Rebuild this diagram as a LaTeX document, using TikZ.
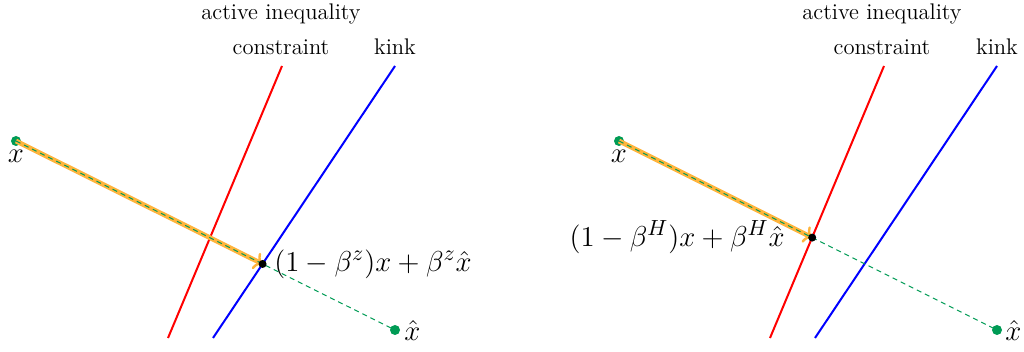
\documentclass[tikz,border=0pt]{standalone}
\usetikzlibrary{arrows.meta}
\definecolor{gpt}{RGB}{0,155,85}
\definecolor{orng}{RGB}{255,180,60}
\begin{document}
\begin{tikzpicture}[x=0.5pt,y=-0.5pt,
  gdot/.style={circle,fill=gpt,inner sep=0pt,minimum size=5pt},
  bdot/.style={circle,fill=black,inner sep=0pt,minimum size=4pt},
  cline/.style={line width=1pt},
  orarrow/.style={draw=orng,line width=2.4pt,-{To[length=4pt,width=9pt,line width=1.2pt]}},
  gdash/.style={draw=gpt,line width=0.5pt,dash pattern=on 2.5pt off 2pt},
  lbl/.style={inner sep=0pt,font=\fontsize{15.1}{18}\selectfont},
  ttl/.style={inner sep=0pt,font=\fontsize{11.3}{13.5}\selectfont}]
\useasboundingbox (0,0) rectangle (1024,352);
% ---------- left panel ----------
\coordinate (rA1) at (168,338); \coordinate (rA2) at (282,66);
\coordinate (bA1) at (213,338); \coordinate (bA2) at (395,66);
\node[gdot] (xA) at (16,141) {};
\node[gdot] (hA) at (395,330) {};
\coordinate (mA) at (intersection of xA--hA and bA1--bA2);
\draw[cline,red] (rA1) -- (rA2);
\draw[cline,blue] (bA1) -- (bA2);
\draw[orarrow] (xA.center) -- (mA);
\draw[gdash] (xA.center) -- (hA.center);
\node[bdot] (pA) at (mA) {};
\node[lbl] (xlA) at (16,156) {$x$};
\node[lbl,anchor=west] (hlA) at (404,331) {$\hat{x}$};
\node[lbl,anchor=west] (plA) at (274,264) {$(1-\beta^z)x+\beta^z\hat{x}$};
\node[ttl] (t1A) at (281,14) {active inequality};
\node[ttl] (t2A) at (281,47) {constraint};
\node[ttl] (t3A) at (395,47) {kink};
% ---------- right panel ----------
\coordinate (rB1) at (770,338); \coordinate (rB2) at (884,66);
\coordinate (bB1) at (815,338); \coordinate (bB2) at (997,66);
\node[gdot] (xB) at (619,141) {};
\node[gdot] (hB) at (997,330) {};
\coordinate (mB) at (intersection of xB--hB and rB1--rB2);
\draw[cline,red] (rB1) -- (rB2);
\draw[cline,blue] (bB1) -- (bB2);
\draw[orarrow] (xB.center) -- (mB);
\draw[gdash] (xB.center) -- (hB.center);
\node[bdot] (pB) at (mB) {};
\node[lbl] (xlB) at (619,156) {$x$};
\node[lbl,anchor=west] (hlB) at (1005,331) {$\hat{x}$};
\node[lbl,anchor=east] (plB) at (785,237) {$(1-\beta^H)x+\beta^H\hat{x}$};
\node[ttl] (t1B) at (882,14) {active inequality};
\node[ttl] (t2B) at (882,47) {constraint};
\node[ttl] (t3B) at (997,47) {kink};
\end{tikzpicture}
\end{document}
